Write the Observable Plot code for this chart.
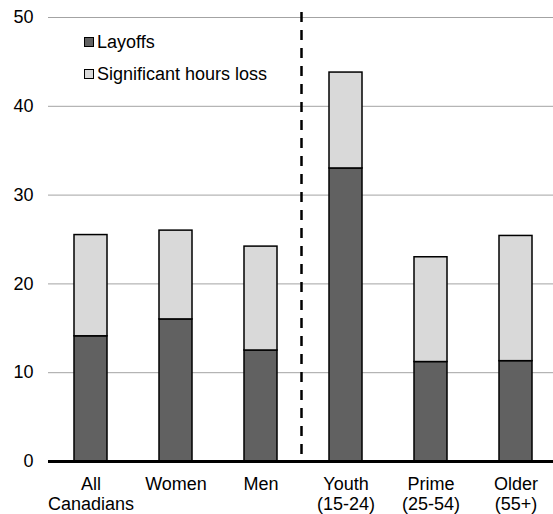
<!DOCTYPE html>
<html><head><meta charset="utf-8">
<script src="https://cdn.jsdelivr.net/npm/d3@7"></script>
<script src="https://cdn.jsdelivr.net/npm/@observablehq/plot@0.6"></script>
<style>
body{margin:0;background:#fff;font-family:"Liberation Sans",Arial,sans-serif;}
#wrap{position:relative;width:553px;height:514px;}
.leg{position:absolute;left:84px;height:12px;font-size:18px;line-height:12px;display:flex;align-items:center;color:#000;white-space:nowrap;}
.sw{width:8px;height:8px;border:1px solid #000;margin-right:3px;box-sizing:content-box;}
</style></head><body><div id="wrap"></div>
<script>
const categories = ["All\nCanadians","Women","Men","Youth\n(15-24)","Prime\n(25-54)","Older\n(55+)"];
const layoffs = [14.1, 16.0, 12.5, 33.0, 11.2, 11.3];
const hoursLoss = [11.4, 10.0, 11.7, 10.8, 11.8, 14.1];
const seriesNames = ["Layoffs", "Significant hours loss"];
const seriesColors = ["#616161", "#d9d9d9"];
const yTicks = [0, 10, 20, 30, 40, 50];
const dividerAfter = ["Men"];

const data = categories.flatMap((c, i) => [
  {category: c, series: seriesNames[0], value: layoffs[i]},
  {category: c, series: seriesNames[1], value: hoursLoss[i]}
]);

const chart = Plot.plot({
  width: 553, height: 514,
  marginLeft: 48, marginRight: 0, marginTop: 17, marginBottom: 53,
  style: {fontFamily: "Liberation Sans, Arial, sans-serif", fontSize: "18px", color: "#000", background: "#fff"},
  x: {domain: categories, range: [48, 558], paddingInner: 0.61, paddingOuter: 0.3, label: null},
  y: {domain: [0, 50], label: null},
  color: {domain: seriesNames, range: seriesColors},
  marks: [
    Plot.ruleY(yTicks.filter(d => d > 0), {stroke: "#a3a3a3", strokeWidth: 1}),
    Plot.barY(data, {x: "category", y: "value", fill: "series", stroke: "#000", strokeWidth: 1.5}),
    Plot.ruleX(dividerAfter, {dx: 40.5, stroke: "#000", strokeWidth: 2.5, strokeDasharray: "10,8", insetTop: -5}),
    Plot.ruleY([0], {stroke: "#000", strokeWidth: 3}),
    Plot.axisY({ticks: yTicks, tickSize: 0, tickPadding: 15, fontSize: 18, label: null}),
    Plot.axisX({tickSize: 0, tickPadding: 14, fontSize: 18, lineHeight: 1.13, label: null})
  ]
});
const wrap = document.getElementById("wrap");
wrap.appendChild(chart);
seriesNames.forEach((name, i) => {
  const d = document.createElement("div");
  d.className = "leg";
  d.style.top = (35.5 + i * 32) + "px";
  const sw = document.createElement("span");
  sw.className = "sw";
  sw.style.background = seriesColors[i];
  d.appendChild(sw);
  d.appendChild(document.createTextNode(name));
  wrap.appendChild(d);
});
</script></body></html>
